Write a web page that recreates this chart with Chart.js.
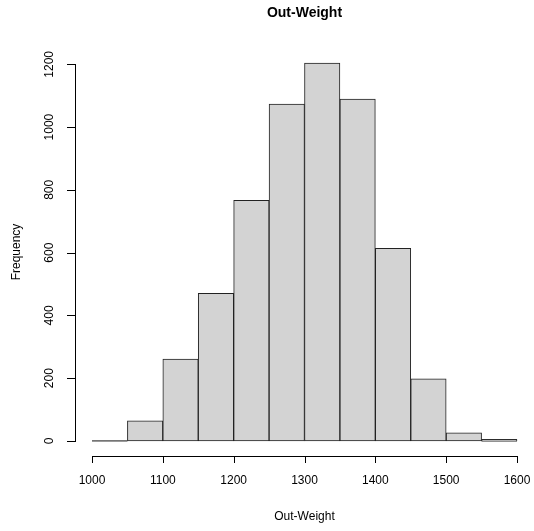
<!DOCTYPE html>
<html>
<head>
<meta charset="utf-8">
<script src="https://cdn.jsdelivr.net/npm/chart.js@4"></script>
<style>
  html, body { margin: 0; padding: 0; background: #fff; }
  #wrap { width: 534px; height: 531px; }
</style>
</head>
<body>
<div id="wrap"><canvas id="hist" width="534" height="531"></canvas></div>
<script>
// histogram bins (Out-Weight), width 50
const binStarts = [1000, 1050, 1100, 1150, 1200, 1250, 1300, 1350, 1400, 1450, 1500, 1550];
const counts = [0, 64, 261, 470, 767, 1073, 1204, 1089, 614, 198, 26, 4];
const xTicks = [1000, 1100, 1200, 1300, 1400, 1500, 1600];
const yTicks = [0, 200, 400, 600, 800, 1000, 1200];
const binWidth = 50;

const FONT = '"Liberation Sans", Arial, sans-serif';

// bars as points at bin centres
const barData = binStarts.map((s, i) => ({ x: s + binWidth / 2, y: counts[i] }));

// very low bins collapse to a line in R, outline them (bottom + top edge)
const flatLine = [];
binStarts.forEach((s, i) => {
  if (counts[i] < 10) {
    flatLine.push({ x: s, y: 0 }, { x: s + binWidth, y: 0 }, { x: NaN, y: NaN });
    if (counts[i] > 0) {
      flatLine.push({ x: s, y: counts[i] }, { x: s + binWidth, y: counts[i] }, { x: NaN, y: NaN });
    }
  }
});

// R-style axes, titles
const rAxes = {
  id: 'rAxes',
  afterDraw(chart) {
    const ctx = chart.ctx;
    const xs = chart.scales.x, ys = chart.scales.y;
    const area = chart.chartArea;
    const tick = 7;
    ctx.save();
    ctx.fillStyle = '#000';

    // x axis
    const yAx = Math.round(area.bottom);
    const x0 = Math.round(xs.getPixelForValue(xTicks[0]));
    const x1 = Math.round(xs.getPixelForValue(xTicks[xTicks.length - 1]));
    ctx.fillRect(x0, yAx, x1 - x0 + 1, 1);
    xTicks.forEach(v => {
      const px = Math.round(xs.getPixelForValue(v));
      ctx.fillRect(px, yAx, 1, tick);
    });
    ctx.font = '12px ' + FONT;
    ctx.textAlign = 'center';
    ctx.textBaseline = 'middle';
    xTicks.forEach(v => ctx.fillText(String(v), xs.getPixelForValue(v), 481));

    // y axis
    const xAx = Math.round(area.left);
    const y0 = Math.round(ys.getPixelForValue(yTicks[0]));
    const y1 = Math.round(ys.getPixelForValue(yTicks[yTicks.length - 1]));
    ctx.fillRect(xAx, y1, 1, y0 - y1 + 1);
    yTicks.forEach(v => {
      const py = Math.round(ys.getPixelForValue(v));
      ctx.fillRect(xAx - tick - 1, py, tick + 1, 1);
    });
    yTicks.forEach(v => {
      ctx.save();
      ctx.translate(50, ys.getPixelForValue(v));
      ctx.rotate(-Math.PI / 2);
      ctx.fillText(String(v), 0, 0);
      ctx.restore();
    });

    // titles
    const midX = (area.left + area.right) / 2;
    const midY = (area.top + area.bottom) / 2;
    ctx.fillText('Out-Weight', midX, 517);
    ctx.save();
    ctx.translate(17, midY);
    ctx.rotate(-Math.PI / 2);
    ctx.fillText('Frequency', 0, 0);
    ctx.restore();
    ctx.font = 'bold 14px ' + FONT;
    ctx.fillText('Out-Weight', midX, 13);
    ctx.restore();
  }
};

new Chart(document.getElementById('hist'), {
  type: 'bar',
  data: {
    datasets: [
      {
        type: 'bar',
        data: barData,
        backgroundColor: '#d3d3d3',
        borderColor: '#222',
        borderWidth: 1,
        borderSkipped: false,
        categoryPercentage: 1,
        barPercentage: 1,
        grouped: false
      },
      {
        type: 'line',
        data: flatLine,
        borderColor: '#111',
        borderWidth: 1,
        pointRadius: 0,
        spanGaps: false
      }
    ]
  },
  options: {
    responsive: false,
    animation: false,
    devicePixelRatio: 1,
    layout: { padding: { left: 75, right: 0, top: 48, bottom: 75 } },
    plugins: { legend: { display: false }, tooltip: { enabled: false }, title: { display: false } },
    scales: {
      x: { type: 'linear', min: 976, max: 1624, offset: false, display: false },
      y: { type: 'linear', min: -48, max: 1252, display: false }
    }
  },
  plugins: [rAxes]
});
</script>
</body>
</html>
